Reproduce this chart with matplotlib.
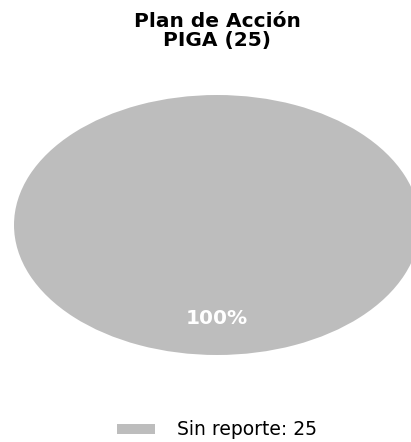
import matplotlib
matplotlib.use("Agg")
import matplotlib.pyplot as plt

# datos
labels = ["Sin reporte"]
values = [25]
colors = ["#bdbdbd"]
title = "Plan de Acción\nPIGA (25)"

fig = plt.figure(figsize=(4.11, 4.42), dpi=100)
ax = fig.add_axes([14 / 411, 87 / 442, 406 / 411, 260 / 442])

wedges, texts, autotexts = ax.pie(
    values, colors=colors, startangle=90, autopct="%1.0f%%",
    pctdistance=0.72, radius=1,
    textprops={"color": "white", "fontsize": 14.5, "fontweight": "bold"},
)
for w in wedges:
    w.set_clip_on(False)
ax.set_aspect("auto")
ax.set_xlim(-1, 1)
ax.set_ylim(-1, 1)
ax.axis("off")

fig.text(0.528, 0.972, title, ha="center", va="top", fontsize=14.5,
         fontweight="bold", linespacing=0.95)

leg_labels = [f"{l}: {v}" for l, v in zip(labels, values)]
fig.legend(wedges, leg_labels, loc="lower center", bbox_to_anchor=(0.528, -0.032),
           frameon=False, fontsize=13.5, handlelength=2.0, handleheight=0.45,
           handletextpad=1.2)

fig.savefig("out.png", dpi=100)
